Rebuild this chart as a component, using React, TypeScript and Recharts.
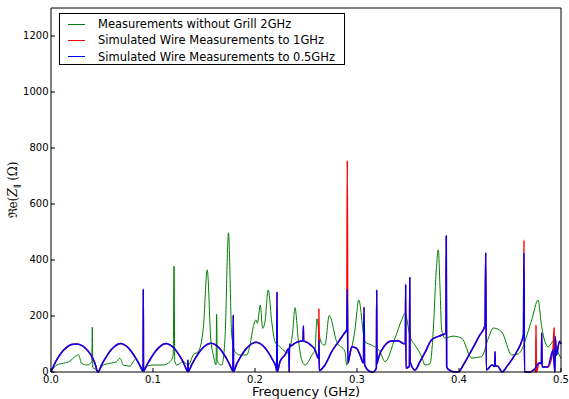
import React from 'react';
import { LineChart, Line, XAxis, YAxis } from 'recharts';

const W = 569;
const H = 399;

// measured trace, frequency in GHz / Re(Z) in ohm
const greenFreq = [
  0, 0.0023, 0.0056, 0.0121, 0.0186, 0.0235, 0.0268, 0.0301, 0.035, 0.0389, 0.04, 0.0405, 0.041, 0.0422, 0.0464,
  0.0513, 0.0578, 0.0644, 0.0676, 0.0709, 0.0775, 0.0807, 0.0833, 0.0866, 0.0889, 0.0938, 0.1003, 0.1101, 0.1167,
  0.1198, 0.1206, 0.1213, 0.1232, 0.1297, 0.1346, 0.1395, 0.1444, 0.1493, 0.1532, 0.1566, 0.1591, 0.1618, 0.1624,
  0.163, 0.1674, 0.1706, 0.174, 0.1772, 0.1804, 0.1853, 0.1919, 0.1951, 0.1983, 0.201, 0.2023, 0.2052, 0.2075,
  0.2098, 0.213, 0.2164, 0.2196, 0.2245, 0.2294, 0.2314, 0.2343, 0.237, 0.2392, 0.2425, 0.2458, 0.249, 0.2559,
  0.2588, 0.2608, 0.2627, 0.2654, 0.2686, 0.2728, 0.2801, 0.2882, 0.2899, 0.2931, 0.298, 0.3017, 0.3078, 0.3144,
  0.3225, 0.3275, 0.3373, 0.3438, 0.3471, 0.352, 0.3569, 0.3634, 0.3667, 0.3716, 0.3748, 0.3775, 0.3797, 0.3814,
  0.383, 0.3863, 0.3941, 0.4026, 0.4125, 0.4222, 0.4287, 0.4336, 0.4419, 0.4517, 0.4582, 0.4713, 0.4775, 0.4811,
  0.4875, 0.4925, 0.499, 0.5,
];
const greenRe = [
  5, 13, 25, 31, 39, 55, 61, 31, 25, 31, 40, 160, 15, 13, 4,
  25, 31, 37, 49, 25, 21, 37, 49, 25, 7, 21, 25, 25, 37,
  60, 378, 40, 25, 37, 25, 61, 73, 156, 365, 120, 61, 25, 206,
  37, 25, 120, 497, 132, 73, 61, 61, 96, 162, 186, 174, 239, 156,
  180, 293, 180, 108, 90, 73, 67, 86, 144, 230, 114, 43, 25, 61,
  80, 190, 140, 102, 96, 202, 108, 73, 25, 61, 150, 257, 108, 96,
  73, 37, 121, 186, 210, 126, 96, 55, 25, 30, 150, 350, 436, 300,
  150, 121, 128, 121, 50, 55, 120, 157, 143, 61, 65, 186, 257, 160,
  90, 110, 55, 50,
];

// simulated wire measurement up to 0.5 GHz
const blueFreq = [
  0, 0.005, 0.01, 0.015, 0.02, 0.0245, 0.029, 0.034, 0.039, 0.043, 0.046,
  0.05, 0.054, 0.058, 0.062, 0.066, 0.068, 0.072, 0.076, 0.08, 0.084, 0.088, 0.0903, 0.0905, 0.0907,
  0.094, 0.098, 0.102, 0.106, 0.11, 0.113, 0.117, 0.121, 0.125, 0.129, 0.1325, 0.134, 0.1343, 0.1346,
  0.138, 0.142, 0.146, 0.15, 0.154, 0.157, 0.161, 0.165, 0.169, 0.173, 0.1765, 0.1783, 0.1787, 0.179,
  0.182, 0.186, 0.19, 0.194, 0.198, 0.201, 0.205, 0.209, 0.213, 0.217, 0.2205, 0.2212, 0.2216, 0.2219,
  0.2245, 0.2294, 0.2332, 0.2335, 0.2338, 0.2345, 0.238, 0.242, 0.246, 0.2472, 0.2474, 0.2477, 0.251,
  0.255, 0.2588, 0.2618, 0.2624, 0.2627, 0.263, 0.2686, 0.2752, 0.2814, 0.2875, 0.29, 0.2905, 0.291,
  0.2948, 0.2997, 0.3029, 0.3063, 0.3069, 0.3075, 0.3127, 0.316, 0.319, 0.3193, 0.3196, 0.3209, 0.3275,
  0.334, 0.3405, 0.3454, 0.3474, 0.3477, 0.348, 0.3514, 0.3517, 0.352, 0.3569, 0.3618, 0.3667, 0.3732,
  0.3833, 0.3872, 0.3875, 0.3879, 0.3892, 0.3961, 0.399, 0.405, 0.41, 0.415, 0.42, 0.4255, 0.4262, 0.4268,
  0.4324, 0.435, 0.4353, 0.4356, 0.4382, 0.4422, 0.447, 0.452, 0.457, 0.4618, 0.4632, 0.4637, 0.4642,
  0.47, 0.474, 0.4785, 0.4808, 0.4811, 0.4815, 0.487, 0.4922, 0.4935, 0.4941, 0.4944, 0.4955, 0.4985, 0.5,
];
const blueRe = [
  0, 40, 68, 87, 98, 100, 97, 84, 62, 32, 0,
  28, 53, 75, 90, 100, 102, 97, 86, 67, 44, 18, 3, 296, 3,
  25, 50, 72, 88, 99, 102, 96, 84, 64, 40, 12, 2, 43, 3,
  26, 52, 74, 90, 100, 103, 98, 86, 66, 42, 16, 3, 204, 3,
  28, 55, 77, 93, 103, 106, 101, 89, 70, 45, 18, 4, 286, 2,
  37, 61, 84, 0, 100, 92, 100, 108, 111, 112, 164, 111, 106,
  95, 80, 50, 48, 114, 5, 25, 73, 106, 138, 152, 295, 32,
  90, 84, 61, 32, 232, 25, 2, 0, 14, 293, 30, 49, 96,
  111, 111, 102, 100, 313, 14, 20, 337, 37, 7, 37, 70, 115,
  132, 139, 486, 19, 10, 0, 0, 30, 62, 95, 130, 165, 426, 7,
  25, 20, 73, 22, 20, 0, 20, 45, 75, 114, 135, 425, 0,
  0, 10, 32, 30, 139, 18, 18, 79, 20, 0, 126, 60, 110, 100,
];

// the 1 GHz simulation follows the 0.5 GHz one except at these resonances
const redFreq = [0.2627, 0.2905, 0.3873, 0.4637, 0.4752, 0.4755, 0.4758, 0.4932];
const redRe = [227, 755, 329, 471, 0, 168, 0, 157];

const xTicks = [0, 0.1, 0.2, 0.3, 0.4, 0.5];
const yTicks = [0, 200, 400, 600, 800, 1000, 1200];

const seriesNames = [
  'Measurements without Grill 2GHz',
  'Simulated Wire Measurements to 1GHz',
  'Simulated Wire Measurements to 0.5GHz',
];
const seriesColors = ['#008000', '#ff0000', '#0000ff'];

const zip = (f: number[], v: number[]) => f.map((x, i) => ({ f: x, v: v[i] }));

const greenData = zip(greenFreq, greenRe);
const blueData = zip(blueFreq, blueRe);
const redData = (() => {
  const m = new Map<number, number>();
  blueFreq.forEach((f, i) => m.set(f, blueRe[i]));
  redFreq.forEach((f, i) => m.set(f, redRe[i]));
  return [...m.entries()].sort((a, b) => a[0] - b[0]).map(([f, v]) => ({ f, v }));
})();

const FONT = '"DejaVu Sans", sans-serif';

// matplotlib-style ticks: pointing into the axes box
const BottomTick = (p: any) => (
  <g>
    <line x1={p.x} x2={p.x} y1={p.y} y2={p.y - 4} stroke="#000" />
    <text x={p.x} y={p.y + 11} textAnchor="middle" fontSize={10} fontFamily={FONT} fill="#000">
      {Number(p.payload.value).toFixed(1)}
    </text>
  </g>
);
const LeftTick = (p: any) => (
  <g>
    <line x1={p.x} x2={p.x + 4} y1={p.y} y2={p.y} stroke="#000" />
    <text x={p.x - 2.5} y={p.y} dy="0.3em" textAnchor="end" fontSize={10} fontFamily={FONT} fill="#000">
      {p.payload.value}
    </text>
  </g>
);
const TopTick = (p: any) => <line x1={p.x} x2={p.x} y1={p.y} y2={p.y + 4} stroke="#000" />;
const RightTick = (p: any) => <line x1={p.x} x2={p.x - 4} y1={p.y} y2={p.y} stroke="#000" />;

const axisCommon = {
  tickSize: 0,
  tickMargin: 0,
  tickLine: false,
  interval: 0 as const,
  axisLine: { stroke: '#000' },
};

export default function App() {
  return (
    <div style={{ position: 'absolute', left: 0, top: 0, width: W, height: H, background: '#fff', fontFamily: FONT }}>
      <LineChart width={W} height={H} margin={{ top: 7, right: 7, bottom: 26, left: 50 }}>
        <XAxis xAxisId="b" dataKey="f" type="number" domain={[0, 0.5]} ticks={xTicks} height={1}
          tick={BottomTick} {...axisCommon} />
        <XAxis xAxisId="t" orientation="top" dataKey="f" type="number" domain={[0, 0.5]} ticks={xTicks} height={1}
          tick={TopTick} {...axisCommon} />
        <YAxis yAxisId="l" type="number" domain={[0, 1300]} ticks={yTicks} width={1}
          tick={LeftTick} {...axisCommon} />
        <YAxis yAxisId="r" orientation="right" type="number" domain={[0, 1300]} ticks={yTicks} width={1}
          tick={RightTick} {...axisCommon} />
        <Line xAxisId="b" yAxisId="l" data={greenData} dataKey="v" type="monotone" stroke={seriesColors[0]}
          strokeWidth={1} dot={false} isAnimationActive={false} />
        <Line xAxisId="b" yAxisId="l" data={redData} dataKey="v" type="monotone" stroke={seriesColors[1]}
          strokeWidth={1.5} dot={false} isAnimationActive={false} />
        <Line xAxisId="b" yAxisId="l" data={blueData} dataKey="v" type="monotone" stroke={seriesColors[2]}
          strokeWidth={1.5} dot={false} isAnimationActive={false} />
      </LineChart>

      {/* legend box, upper left inside the axes */}
      <div style={{
        position: 'absolute', left: 59, top: 13, width: 286, height: 52, boxSizing: 'border-box',
        border: '1px solid #000', background: '#fff',
      }}>
        {seriesNames.map((name, i) => (
          <div key={name} style={{ position: 'absolute', left: 0, top: 2 + i * 16.3, height: 16, display: 'flex', alignItems: 'center' }}>
            <span style={{ display: 'inline-block', marginLeft: 8, width: 17, height: 1, background: seriesColors[i] }} />
            <span style={{ marginLeft: 13, fontSize: 11.5, color: '#000', whiteSpace: 'nowrap' }}>{name}</span>
          </div>
        ))}
      </div>

      {/* axis titles */}
      <svg width={W} height={H} style={{ position: 'absolute', left: 0, top: 0, pointerEvents: 'none' }}>
        <text x={306} y={396} textAnchor="middle" fontSize={13} fontFamily={FONT} fill="#000">Frequency (GHz)</text>
        <text transform="translate(17,190) rotate(-90)" textAnchor="middle" fontSize={12}
          fontFamily='"DejaVu Serif", serif' fill="#000">
          ℜe(<tspan fontStyle="italic">Z</tspan><tspan fontSize={8} dy={3}>∥</tspan><tspan dy={-3}> (Ω)</tspan>
        </text>
      </svg>
    </div>
  );
}
